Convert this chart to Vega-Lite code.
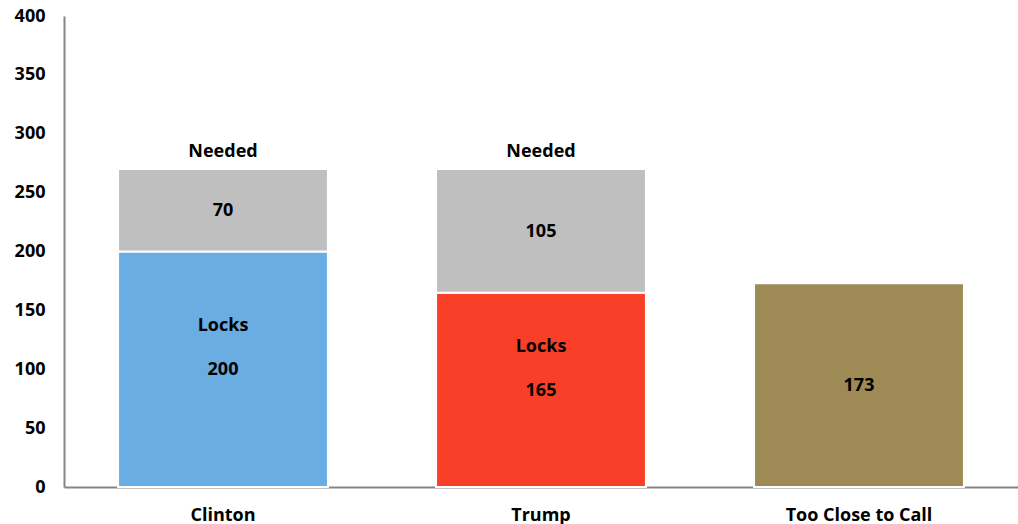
{
  "$schema": "https://vega.github.io/schema/vega-lite/v6.json",
  "autosize": {"type": "none"},
  "padding": {"left": 64, "top": 16, "right": 0, "bottom": 37},
  "width": 954,
  "height": 471,
  "background": "white",
  "config": {"view": {"stroke": null}, "font": "Open Sans"},
  "data": {
    "values": [
      {"cand": "Clinton", "part": "Locks", "key": "Clinton", "ord": 1, "value": 200},
      {"cand": "Clinton", "part": "Needed", "key": "Needed", "ord": 2, "value": 70},
      {"cand": "Trump", "part": "Locks", "key": "Trump", "ord": 1, "value": 165},
      {"cand": "Trump", "part": "Needed", "key": "Needed", "ord": 2, "value": 105},
      {"cand": "Too Close to Call", "part": "Toss", "key": "Toss", "ord": 1, "value": 173}
    ]
  },
  "transform": [
    {"stack": "value", "groupby": ["cand"], "sort": [{"field": "ord"}], "as": ["y0", "y1"]},
    {"calculate": "(datum.y0 + datum.y1) / 2", "as": "mid"}
  ],
  "encoding": {
    "x": {
      "field": "cand", "type": "nominal",
      "sort": ["Clinton", "Trump", "Too Close to Call"],
      "scale": {"paddingInner": 0.34, "paddingOuter": 0.17},
      "axis": {
        "title": null, "labelAngle": 0, "ticks": false,
        "domainColor": "#868686", "domainWidth": 2,
        "labelFontSize": 18, "labelFontWeight": "bold", "labelColor": "#000000",
        "labelPadding": 19, "labelFont": "Open Sans"
      }
    }
  },
  "layer": [
    {
      "mark": {"type": "bar", "stroke": "white", "strokeWidth": 2},
      "encoding": {
        "y": {
          "field": "y0", "type": "quantitative",
          "scale": {"domain": [0, 400], "nice": false},
          "axis": {
            "title": null, "values": [0, 50, 100, 150, 200, 250, 300, 350, 400],
            "grid": false, "ticks": false,
            "domainColor": "#868686", "domainWidth": 2,
            "labelFontSize": 18, "labelFontWeight": "bold", "labelColor": "#000000",
            "labelPadding": 19, "labelFont": "Open Sans"
          }
        },
        "y2": {"field": "y1"},
        "color": {
          "field": "key", "type": "nominal",
          "scale": {"domain": ["Clinton", "Trump", "Needed", "Toss"], "range": ["#69ade3", "#f93f27", "#bfbfbf", "#9e8a54"]},
          "legend": null
        }
      }
    },
    {
      "mark": {"type": "text", "fontSize": 18, "fontWeight": "bold", "color": "#000000", "baseline": "middle", "dy": 1},
      "encoding": {
        "y": {"field": "mid", "type": "quantitative"},
        "text": {"field": "value", "type": "quantitative"}
      }
    },
    {
      "transform": [{"filter": "datum.part == 'Locks'"}],
      "mark": {"type": "text", "fontSize": 18, "fontWeight": "bold", "color": "#000000", "baseline": "middle", "dy": -43},
      "encoding": {
        "y": {"field": "mid", "type": "quantitative"},
        "text": {"field": "part", "type": "nominal"}
      }
    },
    {
      "transform": [{"filter": "datum.part == 'Needed'"}],
      "mark": {"type": "text", "fontSize": 18, "fontWeight": "bold", "color": "#000000", "baseline": "middle", "dy": -17},
      "encoding": {
        "y": {"field": "y1", "type": "quantitative"},
        "text": {"field": "part", "type": "nominal"}
      }
    }
  ]
}
